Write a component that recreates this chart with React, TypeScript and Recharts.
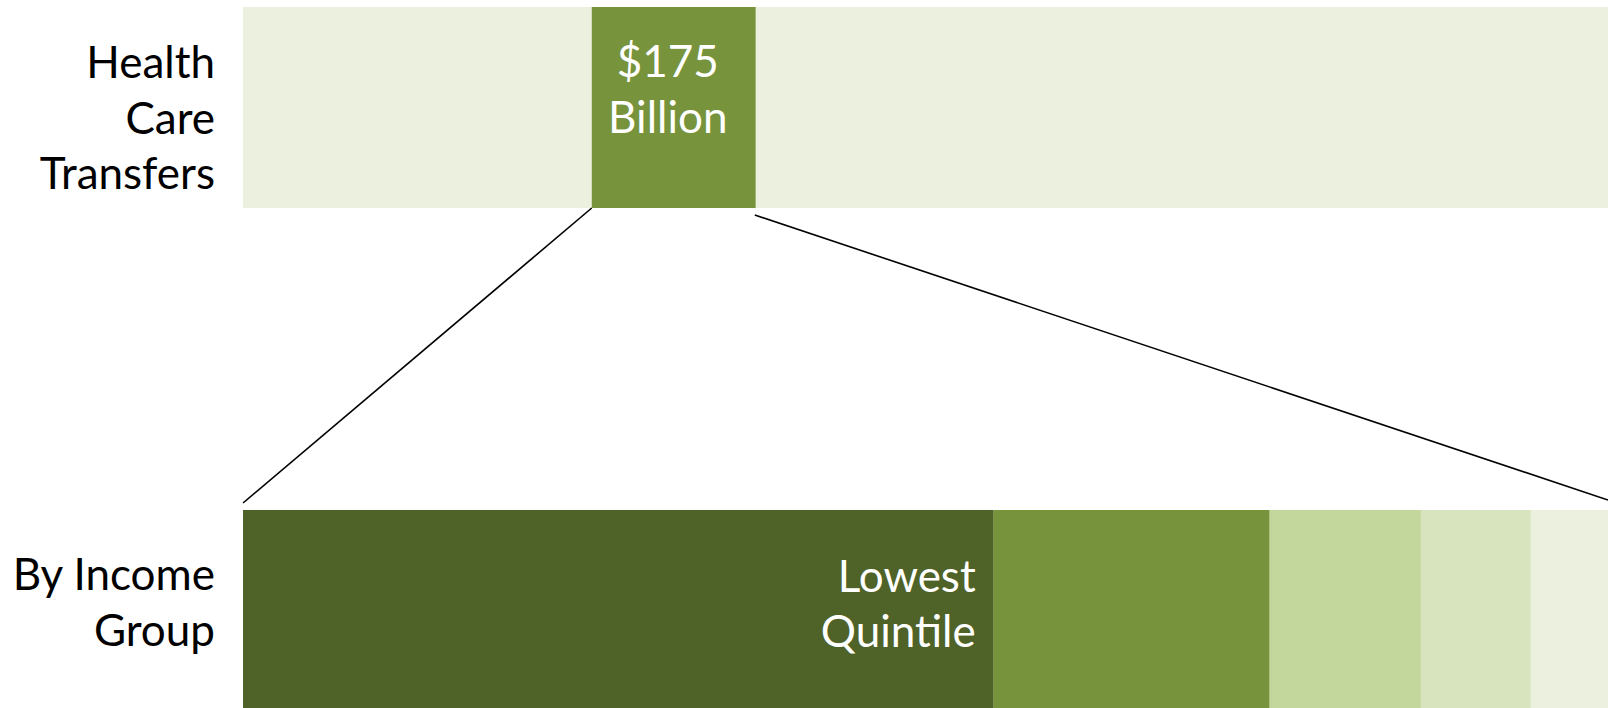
import { BarChart, Bar, XAxis, YAxis, LabelList } from "recharts";

// --- Data ---
const ROWS = ["Health Care Transfers", "By Income Group"];
const ROW_LABEL_LINES = [
  ["Health", "Care", "Transfers"],
  ["By Income", "Group"],
];

// top row: health care among all transfers ($ billions)
const TRANSFER_KEYS = ["otherBefore", "healthCare", "otherAfter"];
const TRANSFER_VALUES = [372, 175, 909];
const TRANSFER_COLORS = ["#EBF1DE", "#77933C", "#EBF1DE"];

// bottom row: the $175B split by income quintile
const QUINTILE_KEYS = ["lowest", "second", "middle", "fourth", "highest"];
const QUINTILE_NAMES = ["Lowest Quintile", "Second Quintile", "Middle Quintile", "Fourth Quintile", "Highest Quintile"];
const QUINTILE_VALUES = [96.3, 35.4, 19.4, 14.1, 9.9];
const QUINTILE_COLORS = ["#4F6228", "#77933C", "#C3D69B", "#D7E4BD", "#EBF1DE"];

const data = ROWS.map((row, i) => {
  const d: Record<string, any> = { row };
  TRANSFER_KEYS.forEach((k, j) => (d[k] = i === 0 ? TRANSFER_VALUES[j] : 0));
  QUINTILE_KEYS.forEach((k, j) => (d[k] = i === 1 ? QUINTILE_VALUES[j] : 0));
  return d;
});

// --- Layout ---
const WIDTH = 1608;
const AXIS_W = 243;
const BAND = 503; // one category band
const BAR = 201;
const CHART_H = BAND * 2;
const CHART_TOP = 107.5 - BAND / 2; // centre first bar at y=107.5

const FONT = "Lato, 'Open Sans', sans-serif";
const FONT_SIZE = 44;
const LINE_H = 55.5;
const LABEL_FIRST_BASELINE = [-29.5, -20.5];

function RowTick(props: any) {
  const { x, y, index } = props;
  const lines = ROW_LABEL_LINES[index] || [];
  return (
    <text x={x} y={y} textAnchor="end" fill="#000" fontFamily={FONT} fontSize={FONT_SIZE}>
      {lines.map((line, i) => (
        <tspan key={i} x={x} y={y + LABEL_FIRST_BASELINE[index] + i * LINE_H}>
          {line}
        </tspan>
      ))}
    </text>
  );
}

// "$175 Billion" plus the two connector lines down to the income bar
function HealthLabel(props: any) {
  const { x, y, width, height } = props;
  if (!width || width <= 0) return null;
  const row = data.find((d) => d.healthCare > 0);
  const cx = x + width / 2 - 6;
  const cy = y + height / 2;
  const nextTop = y + BAND;
  return (
    <g>
      <text x={cx} y={cy} textAnchor="middle" fill="#fff" fontFamily={FONT} fontSize={FONT_SIZE}>
        <tspan x={cx} y={cy - 30.5}>{`$${row?.healthCare}`}</tspan>
        <tspan x={cx} y={cy + 25.5}>Billion</tspan>
      </text>
      <line x1={x} y1={y + height} x2={AXIS_W} y2={nextTop - 7} stroke="#000" strokeWidth={1.6} />
      <line x1={x + width - 1} y1={y + height + 7} x2={WIDTH} y2={nextTop - 10} stroke="#000" strokeWidth={1.6} />
    </g>
  );
}

function LowestLabel(props: any) {
  const { x, y, width, height } = props;
  if (!width || width <= 0) return null;
  const rx = x + width - 18;
  const cy = y + height / 2;
  const [first, second] = QUINTILE_NAMES[0].split(" ");
  return (
    <text x={rx} y={cy} textAnchor="end" fill="#fff" fontFamily={FONT} fontSize={FONT_SIZE}>
      <tspan x={rx} y={cy - 19}>{first}</tspan>
      <tspan x={rx} y={cy + 36}>{second}</tspan>
    </text>
  );
}

export default function App() {
  return (
    <div
      style={{
        position: "fixed",
        left: 0,
        top: 0,
        width: WIDTH,
        height: 708,
        overflow: "hidden",
        background: "#fff",
      }}
    >
      <div style={{ position: "absolute", left: 0, top: CHART_TOP }}>
        <BarChart
          width={WIDTH}
          height={CHART_H}
          data={data}
          layout="vertical"
          stackOffset="expand"
          margin={{ top: 0, right: 0, bottom: 0, left: 0 }}
        >
          <XAxis type="number" hide domain={[0, 1]} />
          <YAxis
            type="category"
            dataKey="row"
            width={AXIS_W}
            axisLine={false}
            tickLine={false}
            tickSize={0}
            tickMargin={28}
            tick={<RowTick />}
          />
          {TRANSFER_KEYS.map((k, i) => (
            <Bar key={k} dataKey={k} stackId="a" fill={TRANSFER_COLORS[i]} barSize={BAR} isAnimationActive={false}>
              {k === "healthCare" && <LabelList dataKey={k} content={<HealthLabel />} />}
            </Bar>
          ))}
          {QUINTILE_KEYS.map((k, i) => (
            <Bar key={k} dataKey={k} stackId="a" fill={QUINTILE_COLORS[i]} barSize={BAR} isAnimationActive={false}>
              {i === 0 && <LabelList dataKey={k} content={<LowestLabel />} />}
            </Bar>
          ))}
        </BarChart>
      </div>
    </div>
  );
}
